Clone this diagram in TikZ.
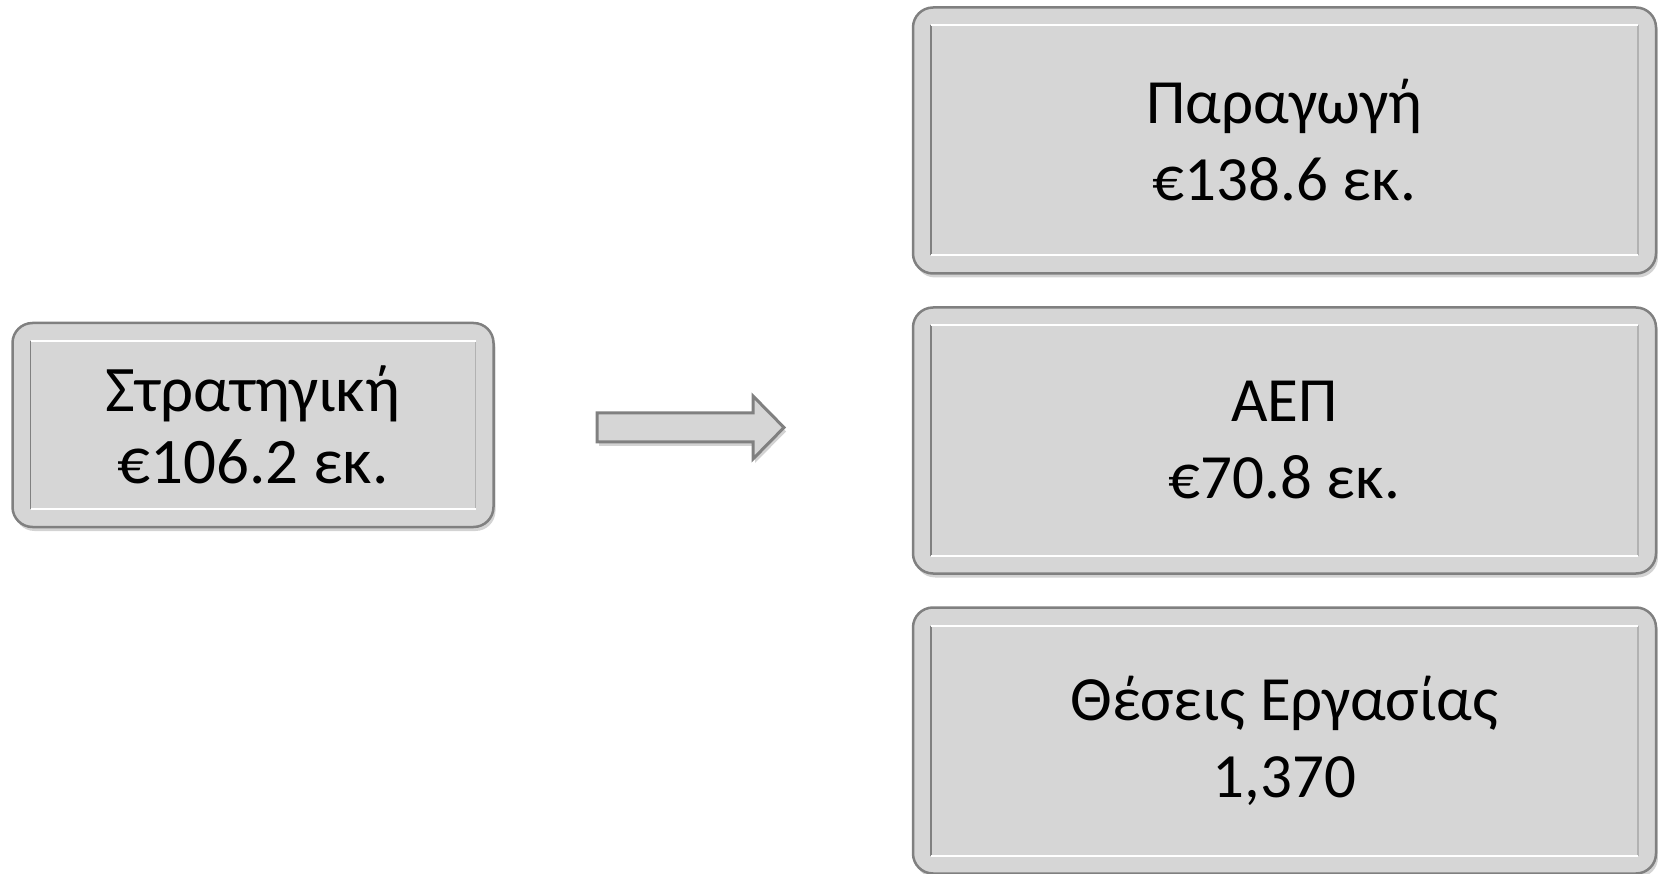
\documentclass[tikz,border=0pt]{standalone}
\usepackage{fontspec}
\setmainfont{Carlito}
\usetikzlibrary{positioning,shadows}
\definecolor{boxfill}{HTML}{D6D6D6}
\definecolor{boxline}{HTML}{808080}

\begin{document}
\begin{tikzpicture}[x=1pt,y=-1pt,node distance=34pt,
    main node/.style={rounded corners=20pt,draw=boxline,line width=2.5pt,fill=boxfill,
        outer sep=0pt,inner sep=0pt,align=center,
        drop shadow={shadow xshift=2pt,shadow yshift=-4pt,opacity=0.35},
        path picture={
            \coordinate (nw) at ([xshift=18pt,yshift=-18pt]path picture bounding box.north west);
            \coordinate (se) at ([xshift=-18pt,yshift=18pt]path picture bounding box.south east);
            \draw[line width=1.5pt,gray] (nw) -- (nw|-se);
            \draw[line width=1.5pt,gray!60] (se|-nw) -- (se);
            \draw[line width=2pt,white] (nw) -- (se|-nw);
            \draw[line width=2pt,white] (nw|-se) -- (se);
        }},
    left node/.style={main node,minimum width=481pt,minimum height=204pt,
        font=\fontsize{65}{72}\selectfont},
    right node/.style={main node,minimum width=743pt,minimum height=266pt,
        font=\fontsize{63}{77}\selectfont},
    block arrow/.style={draw=boxline,line width=3pt,fill=boxfill,line join=miter,
        drop shadow={shadow xshift=2pt,shadow yshift=-4pt,opacity=0.35}}]
    \useasboundingbox (0,0) rectangle (1658,874);

    \node[left node] (strategy) at (253,425) {Στρατηγική\\€106.2 εκ.};
    \node[right node] (output) at (1284.5,140.5) {Παραγωγή\\€138.6 εκ.};
    \node[right node] (gdp) [below=of output] {ΑΕΠ\\€70.8 εκ.};
    \node[right node] (jobs) [below=of gdp] {Θέσεις Εργασίας\\1,370};

    \draw[block arrow] (597,413) -- (753,413) -- (753,396) -- (784,427.5)
        -- (753,459) -- (753,442) -- (597,442) -- cycle;

\end{tikzpicture}
\end{document}
